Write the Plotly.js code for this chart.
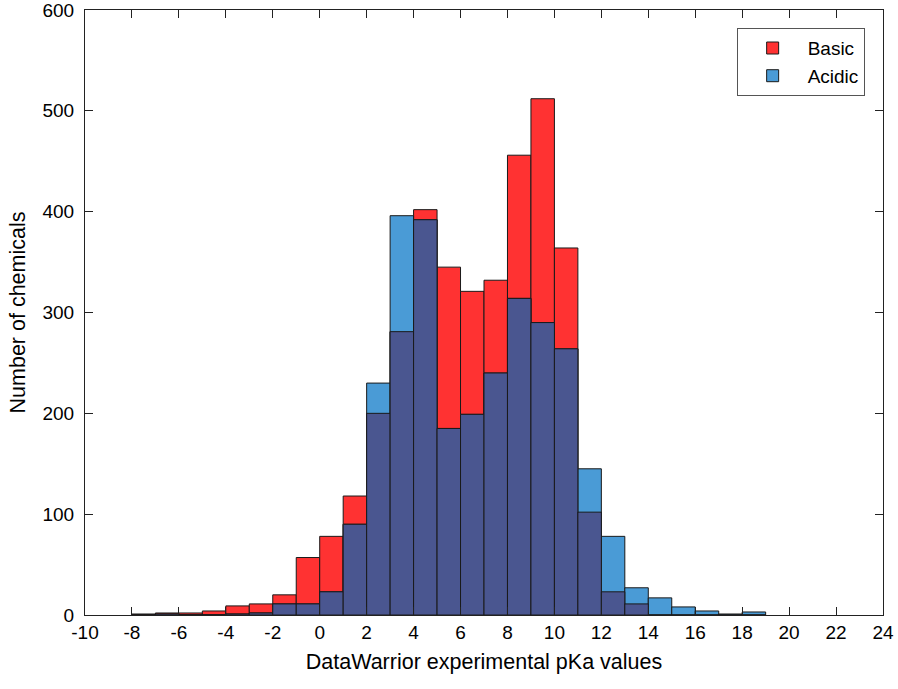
<!DOCTYPE html>
<html>
<head>
<meta charset="utf-8">
<script src="https://cdn.plot.ly/plotly-3.0.1.min.js"></script>
<style>
  html, body { margin: 0; padding: 0; background: #fff; }
  #chart { width: 898px; height: 689px; }
</style>
</head>
<body>
<div id="chart"></div>
<script>
// left edge of each 1-unit pKa bin
const binLeft = [-8, -7, -6, -5, -4, -3, -2, -1, 0, 1, 2, 3, 4, 5, 6, 7, 8, 9, 10, 11, 12, 13, 14, 15, 16, 17, 18];
const basicCounts = [1, 2, 2, 4, 9, 11, 20, 57, 78, 118, 200, 281, 402, 345, 321, 332, 456, 512, 364, 102, 23, 11, 0, 0, 0, 0, 0];
const acidicCounts = [0, 1, 0, 0, 1, 2, 11, 11, 23, 90, 230, 396, 392, 185, 199, 240, 314, 290, 264, 145, 78, 27, 17, 8, 4, 1, 3];

const xTicks = [-10, -8, -6, -4, -2, 0, 2, 4, 6, 8, 10, 12, 14, 16, 18, 20, 22, 24];

// where both histograms overlap the colours blend to dark blue
const overlap = basicCounts.map((b, i) => Math.min(b, acidicCounts[i]));

const edge = { color: '#1a1a1a', width: 1 };

const basic = {
    type: 'bar', name: 'Basic', x: binLeft, y: basicCounts,
    offset: 0, width: 1,
    marker: { color: '#ff3232', line: edge }
};
const acidic = {
    type: 'bar', name: 'Acidic', x: binLeft, y: acidicCounts,
    offset: 0, width: 1,
    marker: { color: '#4a9bd6', line: edge }
};
const both = {
    type: 'bar', name: 'overlap', x: binLeft, y: overlap,
    offset: 0, width: 1, showlegend: false,
    marker: { color: '#4a5690', line: edge }
};

const fam = 'Liberation Sans, Arial, sans-serif';
const tickFont = { family: fam, size: 19, color: '#000' };
const titleFont = { family: fam, size: 21.5, color: '#000' };

const layout = {
    width: 898, height: 689,
    margin: { l: 85, r: 15, t: 10, b: 74 },
    barmode: 'overlay',
    bargap: 0,
    paper_bgcolor: '#fff', plot_bgcolor: '#fff',
    font: tickFont,
    showlegend: true,
    legend: {
        x: 0.977, xanchor: 'right', y: 0.97, yanchor: 'top',
        bordercolor: '#555', borderwidth: 1, bgcolor: '#fff',
        font: { family: fam, size: 19, color: '#000' },
        itemwidth: 60,
        tracegroupgap: 0
    },
    xaxis: {
        range: [-10, 24], tickvals: xTicks, ticktext: xTicks.map(String),
        ticks: 'inside', ticklen: 8, tickcolor: '#222',
        showline: true, linecolor: '#222', linewidth: 1, mirror: 'ticks',
        showgrid: false, zeroline: false,
        tickfont: tickFont,
        ticklabeloverflow: 'allow',
        title: { text: 'DataWarrior experimental pKa values', font: titleFont, standoff: 12 }
    },
    yaxis: {
        range: [0, 600], dtick: 100,
        ticks: 'inside', ticklen: 8, tickcolor: '#222',
        showline: true, linecolor: '#222', linewidth: 1, mirror: 'ticks',
        showgrid: false, zeroline: false,
        tickfont: tickFont,
        ticklabelstandoff: 6,
        ticklabeloverflow: 'allow',
        title: { text: 'Number of chemicals', font: titleFont, standoff: 10 }
    }
};

Plotly.newPlot('chart', [basic, acidic, both], layout, { displayModeBar: false, staticPlot: true });
</script>
</body>
</html>
